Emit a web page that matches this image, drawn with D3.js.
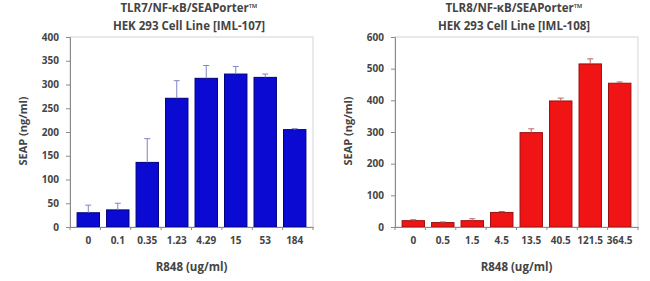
<!DOCTYPE html>
<html>
<head>
<meta charset="utf-8">
<script src="https://cdn.jsdelivr.net/npm/d3@7"></script>
<style>
  body { margin: 0; background: #fff; }
  svg text { font-family: "Open Sans", "Liberation Sans", sans-serif; font-weight: bold; fill: #444; }
</style>
</head>
<body>
<div id="chart"></div>
<script>

var tlr7Doses = ["0", "0.1", "0.35", "1.23", "4.29", "15", "53", "184"];
var tlr7Seap = [30, 36, 136, 271, 313, 322, 315, 205];
var tlr7Err = [16, 14, 50, 37, 27, 16, 7, 2];
var tlr7Ticks = [0, 50, 100, 150, 200, 250, 300, 350, 400];

var tlr8Doses = ["0", "0.5", "1.5", "4.5", "13.5", "40.5", "121.5", "364.5"];
var tlr8Seap = [20, 14, 20, 46, 298, 398, 515, 454];
var tlr8Err = [3, 2, 6, 3, 12, 9, 16, 4];
var tlr8Ticks = [0, 100, 200, 300, 400, 500, 600];

var svg = d3.select("#chart").append("svg")
  .attr("width", 650)
  .attr("height", 281);

function drawChart(config) {
  var left = config.left, right = config.right, top = 37, bottom = 227;

  var x = d3.scaleBand()
    .domain(config.doses)
    .range([left, right])
    .padding(0.24);

  var y = d3.scaleLinear()
    .domain([0, d3.max(config.ticks)])
    .range([bottom, top]);

  var g = svg.append("g");

  // plot area frame
  g.append("rect")
    .attr("x", left)
    .attr("y", top)
    .attr("width", right - left)
    .attr("height", bottom - top)
    .style("fill", "none")
    .style("stroke", "#d4d4d4")
    .style("stroke-width", 1);

  // bars
  g.selectAll("rect.bar")
    .data(config.values)
    .enter()
    .append("rect")
    .attr("class", "bar")
    .attr("x", function(d, i){ return x(config.doses[i]); })
    .attr("y", function(d){ return y(d); })
    .attr("width", x.bandwidth())
    .attr("height", function(d){ return bottom - y(d); })
    .style("fill", config.color)
    .style("stroke", config.stroke)
    .style("stroke-width", 1);

  // error bars (upper half only, like the original)
  var err = g.append("g").selectAll("g")
    .data(config.values)
    .enter()
    .append("g")
    .attr("transform", function(d, i){
      return "translate(" + (x(config.doses[i]) + x.bandwidth() / 2) + ",0)";
    });
  err.append("line")
    .attr("y1", function(d){ return y(d); })
    .attr("y2", function(d, i){ return y(d + config.errors[i]); })
    .style("stroke", config.errColor);
  err.append("line")
    .attr("x1", -3).attr("x2", 3)
    .attr("y1", function(d, i){ return y(d + config.errors[i]); })
    .attr("y2", function(d, i){ return y(d + config.errors[i]); })
    .style("stroke", config.errColor);

  // y axis
  var yAxis = d3.axisLeft(y).tickValues(config.ticks).tickSize(4).tickPadding(7);
  var ya = g.append("g")
    .attr("transform", "translate(" + left + ",0)")
    .call(yAxis);
  ya.select(".domain").style("stroke", "#8a8a8a");
  ya.selectAll(".tick line").style("stroke", "#8a8a8a");
  ya.selectAll("text").style("font-size", "10px");

  // x axis with ticks between categories
  var xa = g.append("g")
    .attr("transform", "translate(0," + bottom + ")")
    .call(d3.axisBottom(x).tickSize(0).tickPadding(10));
  xa.select(".domain").style("stroke", "#8a8a8a");
  xa.selectAll("text").style("font-size", "10px");
  xa.selectAll("line.sep")
    .data(d3.range(config.doses.length + 1))
    .enter()
    .append("line")
    .attr("class", "sep")
    .attr("x1", function(i){ return left + i * (right - left) / config.doses.length; })
    .attr("x2", function(i){ return left + i * (right - left) / config.doses.length; })
    .attr("y1", 0).attr("y2", 3)
    .style("stroke", "#8a8a8a");

  // titles
  var cx = config.titleX;
  g.append("text")
    .attr("x", cx).attr("y", 12)
    .attr("text-anchor", "middle")
    .style("font-size", "11.5px")
    .text(config.title1);
  g.append("text")
    .attr("x", cx).attr("y", 30)
    .attr("text-anchor", "middle")
    .style("font-size", "11.5px")
    .text(config.title2);

  g.append("text")
    .attr("x", (left + right) / 2).attr("y", 271)
    .attr("text-anchor", "middle")
    .style("font-size", "11.5px")
    .text("R848 (ug/ml)");

  g.append("text")
    .attr("transform", "translate(" + config.yTitleX + ",131) rotate(-90)")
    .attr("text-anchor", "middle")
    .style("font-size", "11px")
    .text("SEAP (ng/ml)");
}

drawChart({
  left: 70, right: 313,
  doses: tlr7Doses, values: tlr7Seap, errors: tlr7Err, ticks: tlr7Ticks,
  color: "#0a0ad2", stroke: "#00007a", errColor: "#7f86c4",
  title1: "TLR7/NF-\u03baB/SEAPorter\u2122",
  title2: "HEK 293 Cell Line [IML-107]",
  titleX: 189, yTitleX: 27
});

drawChart({
  left: 395, right: 638,
  doses: tlr8Doses, values: tlr8Seap, errors: tlr8Err, ticks: tlr8Ticks,
  color: "#f01414", stroke: "#9a1010", errColor: "#c06060",
  title1: "TLR8/NF-\u03baB/SEAPorter\u2122",
  title2: "HEK 293 Cell Line [IML-108]",
  titleX: 514, yTitleX: 352
});

</script>
</body>
</html>
